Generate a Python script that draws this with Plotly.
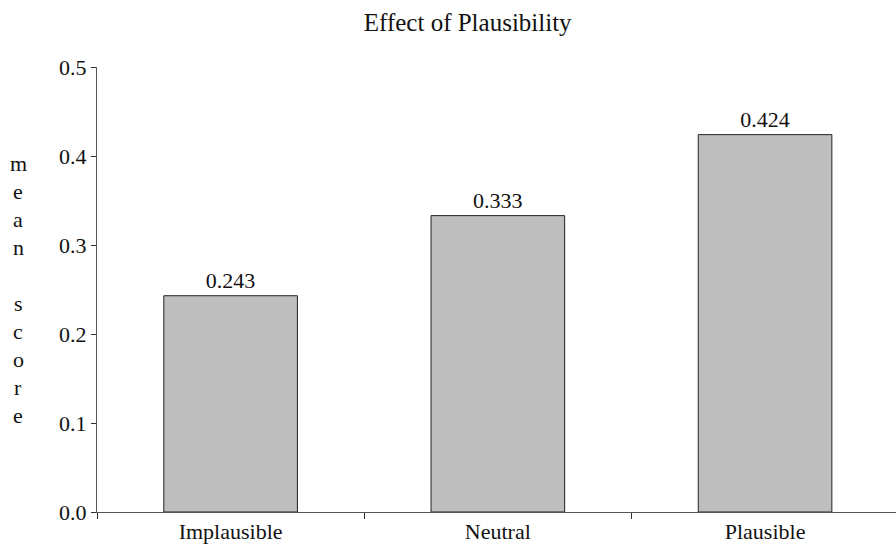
import plotly.graph_objects as go

categories = ["Implausible", "Neutral", "Plausible"]
mean_scores = [0.243, 0.333, 0.424]
value_labels = ["0.243", "0.333", "0.424"]
y_ticks = [0.0, 0.1, 0.2, 0.3, 0.4, 0.5]
y_label = "mean score"
title = "Effect of Plausibility"

FONT = "Liberation Serif, Times New Roman, serif"
AX = "#555555"
FS = 22

fig = go.Figure()
fig.add_trace(go.Bar(
    x=categories, y=mean_scores, width=0.5,
    marker=dict(color="#bebebe", line=dict(color="#222222", width=1)),
    text=value_labels, textposition="outside", cliponaxis=False,
    textfont=dict(family=FONT, size=FS, color="#111111"),
    hoverinfo="skip",
))

fig.update_layout(
    width=896, height=546,
    margin=dict(l=97, r=0, t=67, b=34),
    plot_bgcolor="white", paper_bgcolor="white",
    showlegend=False,
    font=dict(family=FONT, size=FS, color="#111111"),
    title=dict(text=title, x=0.522, xanchor="center", y=0.96, yanchor="middle",
               font=dict(family=FONT, size=25, color="#111111")),
    bargap=0.5,
)
fig.update_xaxes(
    type="category", range=[-0.5, 2.49], tickson="boundaries",
    ticks="outside", ticklen=6, tickcolor="#333333", showline=True, linecolor=AX,
    linewidth=1, showgrid=False, zeroline=False,
    tickfont=dict(family=FONT, size=FS, color="#111111"),
)
fig.update_yaxes(
    range=[0, 0.5], tickvals=y_ticks, tickformat=".1f",
    ticks="outside", ticklen=5, tickcolor="#333333", showline=True, linecolor=AX,
    linewidth=1, showgrid=False, zeroline=False,
    tickfont=dict(family=FONT, size=FS, color="#111111"),
)

n = len(y_label)
spacing = 28
for i, ch in enumerate(y_label):
    if ch == " ":
        continue
    fig.add_annotation(
        text=ch, xref="paper", yref="paper", x=0, y=0.5,
        xshift=-79, yshift=(n - 1) / 2 * spacing - i * spacing,
        showarrow=False, xanchor="center", yanchor="middle",
        font=dict(family=FONT, size=FS, color="#111111"),
    )

fig.write_html(
    "out.html",
    config={"displayModeBar": False},
    post_script="document.body.style.margin='0';document.body.style.overflow='hidden';",
)
